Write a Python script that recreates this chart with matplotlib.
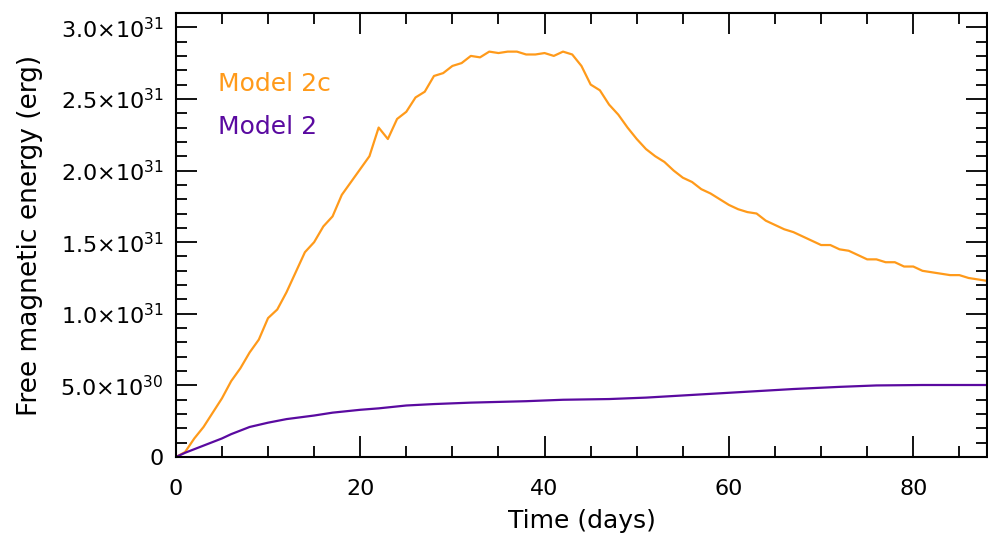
import matplotlib
matplotlib.use("Agg")
import matplotlib.pyplot as plt
from matplotlib.ticker import MultipleLocator, FuncFormatter

# Model 2c (orange), energy in units of 1e31 erg
days_2c = list(range(0, 89))
energy_2c = [0.00, 0.035, 0.13, 0.21, 0.31, 0.41, 0.53, 0.62, 0.73, 0.82,
             0.97, 1.03, 1.15, 1.29, 1.43, 1.50, 1.61, 1.68, 1.83, 1.92,
             2.01, 2.10, 2.30, 2.22, 2.36, 2.41, 2.51, 2.55, 2.66, 2.68,
             2.73, 2.75, 2.80, 2.79, 2.83, 2.82, 2.83, 2.83, 2.81, 2.81,
             2.82, 2.80, 2.83, 2.81, 2.73, 2.60, 2.56, 2.46, 2.39, 2.30,
             2.22, 2.15, 2.10, 2.06, 2.00, 1.95, 1.92, 1.87, 1.84, 1.80,
             1.76, 1.73, 1.71, 1.70, 1.65, 1.62, 1.59, 1.57, 1.54, 1.51,
             1.48, 1.48, 1.45, 1.44, 1.41, 1.38, 1.38, 1.36, 1.36, 1.33,
             1.33, 1.30, 1.29, 1.28, 1.27, 1.27, 1.25, 1.24, 1.23]

# Model 2 (purple)
days_2 = [0, 1, 2, 3, 4, 5, 6, 7, 8, 10, 12, 15, 17, 20, 22, 25, 28, 32, 35,
          38, 42, 47, 51, 55, 59, 63, 67, 72, 76, 81, 88]
energy_2 = [0.0, 0.03, 0.055, 0.08, 0.105, 0.13, 0.16, 0.185, 0.21, 0.24,
            0.265, 0.29, 0.31, 0.33, 0.34, 0.36, 0.37, 0.38, 0.385, 0.39,
            0.40, 0.405, 0.415, 0.43, 0.445, 0.46, 0.475, 0.49, 0.50, 0.503, 0.503]

labels = ["Model 2c", "Model 2"]
colors = ["#ff9a1a", "#5a0aa0"]

plt.rcParams['font.family'] = ['DejaVu Sans']
plt.rcParams['mathtext.fontset'] = 'dejavusans'

fig = plt.figure(figsize=(9.88, 5.39), dpi=100)
ax = fig.add_axes([0.178, 0.152, 0.821, 0.824])

ax.plot(days_2c, [v * 1e31 for v in energy_2c], color=colors[0], lw=1.6)
ax.plot(days_2, [v * 1e31 for v in energy_2], color=colors[1], lw=1.6)

ax.set_xlim(0, 88)
ax.set_ylim(0, 3.1e31)

ax.xaxis.set_major_locator(MultipleLocator(20))
ax.xaxis.set_minor_locator(MultipleLocator(5))
ax.yaxis.set_major_locator(MultipleLocator(0.5e31))
ax.yaxis.set_minor_locator(MultipleLocator(0.1e31))


def fmt_y(v, pos):
    if abs(v) < 1e20:
        return "0"
    exp = 30 if v < 1e31 - 1e20 else 31
    return r"%.1f$\times$10$^{%d}$" % (v / 10**exp, exp)


ax.yaxis.set_major_formatter(FuncFormatter(fmt_y))

ax.tick_params(which='both', direction='in', top=True, right=True,
               width=1.3, labelsize=16)
ax.tick_params(which='major', length=15)
ax.tick_params(which='minor', length=8)
ax.tick_params(axis='x', pad=16)
ax.tick_params(axis='y', pad=9)
for s in ax.spines.values():
    s.set_linewidth(1.5)

ax.set_xlabel("Time (days)", fontsize=18, labelpad=7)
ax.set_ylabel("Free magnetic energy (erg)", fontsize=19, labelpad=12)

ax.text(0.052, 0.84, labels[0], color=colors[0], fontsize=18,
        transform=ax.transAxes, va='center')
ax.text(0.052, 0.743, labels[1], color=colors[1], fontsize=18,
        transform=ax.transAxes, va='center')

plt.savefig("out.png", dpi=100)
